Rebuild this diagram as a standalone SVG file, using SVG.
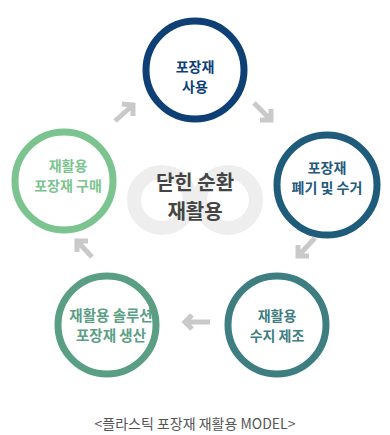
<svg xmlns="http://www.w3.org/2000/svg" width="390" height="435" viewBox="0 0 390 435">
<style>
.ring{fill:#fff;stroke-width:7}
.lbl{font-family:"Noto Sans CJK KR","Noto Sans",sans-serif;font-weight:700;font-size:14px;text-anchor:middle}
.arr{fill:none;stroke:#c9c9c9;stroke-width:5;stroke-linecap:butt;stroke-linejoin:miter}
</style>
<rect width="390" height="435" fill="#fff"/>
<g id="center">
<circle cx="162" cy="200" r="28" fill="none" stroke="#eeeeee" stroke-width="14"/>
<circle cx="228" cy="200" r="28" fill="none" stroke="#eeeeee" stroke-width="14"/>
<text x="195" y="190" class="lbl" style="font-size:20px;fill:#444">닫힌 순환</text>
<text x="195" y="219" class="lbl" style="font-size:20px;fill:#444">재활용</text>
</g>
<g id="n1">
<circle cx="195" cy="70" r="49" class="ring" stroke="#0e3f75"/>
<text x="195" y="72" class="lbl" fill="#0e3f75">포장재</text>
<text x="195" y="92" class="lbl" fill="#0e3f75">사용</text>
</g>
<g id="n2">
<circle cx="327" cy="185" r="50" class="ring" stroke="#1f5b7b"/>
<text x="327" y="173" class="lbl" fill="#1f5b7b">포장재</text>
<text x="327" y="193" class="lbl" fill="#1f5b7b">폐기 및 수거</text>
</g>
<g id="n3">
<circle cx="277" cy="325" r="49" class="ring" stroke="#3e7e80"/>
<text x="277" y="321" class="lbl" fill="#3e7e80">재활용</text>
<text x="277" y="341" class="lbl" fill="#3e7e80">수지 제조</text>
</g>
<g id="n4">
<circle cx="107" cy="325" r="49" class="ring" stroke="#5a9e84"/>
<text x="111" y="321" class="lbl" style="font-size:14.5px" fill="#5a9e84">재활용 솔루션</text>
<text x="111" y="341" class="lbl" style="font-size:14.5px" fill="#5a9e84">포장재 생산</text>
</g>
<g id="n5">
<circle cx="64" cy="181" r="49" class="ring" stroke="#7bc48f"/>
<text x="68" y="171" class="lbl" fill="#7bc48f">재활용</text>
<text x="68" y="191" class="lbl" fill="#7bc48f">포장재 구매</text>
</g>
<g id="connectors">
<path class="arr" d="M115 121 L133 105 M122 104 L133 105 L133 116"/>
<path class="arr" d="M254 103 L271 120 M271 109 L271 120 L260 120"/>
<path class="arr" d="M315 238 L298 256 M298 245 L298 256 L309 256"/>
<path class="arr" d="M210 322 L185 322 M192 315 L185 322 L192 329"/>
<path class="arr" d="M92 257 L77 241 M77 252 L77 241 L88 241"/>
</g>
<text x="195" y="429" style="font-family:'Noto Sans CJK KR','Noto Sans',sans-serif;font-size:14px;fill:#555;text-anchor:middle">&lt;플라스틱 포장재 재활용 MODEL&gt;</text>
</svg>
